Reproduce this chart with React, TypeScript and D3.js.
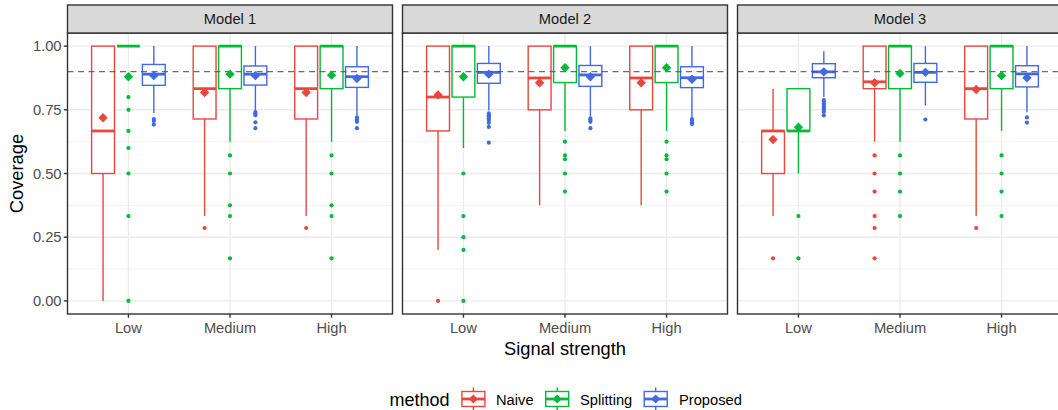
import React from "react";
import * as d3 from "d3";

const models = ["Model 1", "Model 2", "Model 3"];
const strengths = ["Low", "Medium", "High"];
const methods = ["Naive", "Splitting", "Proposed"];
const methodColors = ["#E8473E", "#00BA38", "#4169E1"];
const yTicks = [0, 0.25, 0.5, 0.75, 1];
const yMinor = [0.125, 0.375, 0.625, 0.875];
const targetCoverage = 0.9;

// [lowerWhisker, q1, median, q3, upperWhisker, mean]
// rows: Low (Naive, Splitting, Proposed), Medium (...), High (...)
const model1Stats = [
  [0.0, 0.5, 0.667, 1, 1, 0.719],
  [1, 1, 1, 1, 1, 0.88],
  [0.737, 0.846, 0.89, 0.928, 1, 0.884],
  [0.333, 0.714, 0.833, 1, 1, 0.818],
  [0.625, 0.833, 1, 1, 1, 0.89],
  [0.749, 0.847, 0.89, 0.922, 1, 0.884],
  [0.333, 0.714, 0.833, 1, 1, 0.818],
  [0.625, 0.833, 1, 1, 1, 0.886],
  [0.729, 0.838, 0.88, 0.919, 1, 0.873],
];
const model1Outliers = [
  [],
  [0.8, 0.75, 0.667, 0.6, 0.5, 0.333, 0],
  [0.714, 0.706, 0.692],
  [0.286],
  [0.571, 0.5, 0.375, 0.333, 0.167],
  [0.741, 0.736, 0.729, 0.701, 0.678],
  [0.286],
  [0.571, 0.5, 0.375, 0.333, 0.167],
  [0.72, 0.712, 0.703, 0.678],
];

const model2Stats = [
  [0.2, 0.667, 0.8, 1, 1, 0.808],
  [0.6, 0.8, 1, 1, 1, 0.88],
  [0.747, 0.854, 0.897, 0.932, 1, 0.89],
  [0.375, 0.75, 0.875, 1, 1, 0.856],
  [0.667, 0.857, 1, 1, 1, 0.915],
  [0.725, 0.842, 0.887, 0.924, 1, 0.88],
  [0.375, 0.75, 0.875, 1, 1, 0.856],
  [0.667, 0.857, 1, 1, 1, 0.915],
  [0.722, 0.837, 0.876, 0.919, 1, 0.87],
];
const model2Outliers = [
  [0],
  [0.5, 0.333, 0.25, 0.2, 0],
  [0.736, 0.729, 0.723, 0.716, 0.71, 0.699, 0.683, 0.621],
  [],
  [0.625, 0.571, 0.556, 0.5, 0.429],
  [0.716, 0.71, 0.703, 0.678],
  [],
  [0.625, 0.571, 0.556, 0.5, 0.429],
  [0.714, 0.708, 0.701, 0.694],
];

const model3Stats = [
  [0.333, 0.5, 0.667, 0.667, 0.833, 0.633],
  [0.5, 0.667, 0.667, 0.833, 0.833, 0.682],
  [0.8, 0.876, 0.899, 0.931, 0.98, 0.899],
  [0.625, 0.833, 0.86, 1, 1, 0.856],
  [0.625, 0.833, 1, 1, 1, 0.893],
  [0.767, 0.858, 0.897, 0.932, 1, 0.897],
  [0.333, 0.714, 0.833, 1, 1, 0.83],
  [0.667, 0.833, 1, 1, 1, 0.884],
  [0.74, 0.84, 0.891, 0.923, 1, 0.876],
];
const model3Outliers = [
  [0.167],
  [0.333, 0.167],
  [0.788, 0.782, 0.775, 0.769, 0.762, 0.755, 0.749, 0.742, 0.728],
  [0.571, 0.5, 0.429, 0.333, 0.286, 0.167],
  [0.571, 0.5, 0.429, 0.333],
  [0.712],
  [0.286],
  [0.571, 0.5, 0.429, 0.333],
  [0.72, 0.7],
];

const allStats = [model1Stats, model2Stats, model3Stats];
const allOutliers = [model1Outliers, model2Outliers, model3Outliers];

// layout
const W = 1058;
const H = 410;
const panelLeft0 = 67.5;
const panelW = 325;
const panelGap = 10;
const panelTop = 33;
const panelBottom = 314;
const stripTop = 5;
const FONT = "'Liberation Sans', Arial, Helvetica, sans-serif";
const lw = 1.4;

const y = d3.scaleLinear().domain([-0.0515, 1.0515]).range([panelBottom, panelTop]);

function diamond(cx: number, cy: number, r: number) {
  return `M${cx},${cy - r}L${cx + r},${cy}L${cx},${cy + r}L${cx - r},${cy}Z`;
}

function Panel({ idx }: { idx: number }) {
  const left = panelLeft0 + idx * (panelW + panelGap);
  const right = left + panelW;
  const x = d3.scalePoint<string>().domain(strengths).range([left, right]).padding(0.6);
  const step = x.step();
  const dodge = 0.25 * step;
  const bw = 0.225 * step;
  const stats = allStats[idx];
  const outl = allOutliers[idx];
  return (
    <g>
      <rect x={left} y={panelTop} width={panelW} height={panelBottom - panelTop} fill="white" />
      {yMinor.map((v) => (
        <line key={"mi" + v} x1={left} x2={right} y1={y(v)} y2={y(v)} stroke="#EBEBEB" strokeWidth={0.7} />
      ))}
      {yTicks.map((v) => (
        <line key={"ma" + v} x1={left} x2={right} y1={y(v)} y2={y(v)} stroke="#EBEBEB" strokeWidth={1.4} />
      ))}
      {strengths.map((s) => (
        <line key={"vx" + s} x1={x(s)} x2={x(s)} y1={panelTop} y2={panelBottom} stroke="#EBEBEB" strokeWidth={1.4} />
      ))}
      {strengths.map((s, si) =>
        methods.map((m, mi) => {
          const k = si * 3 + mi;
          const [lo, q1, med, q3, hi] = stats[k];
          const cx = (x(s) as number) + (mi - 1) * dodge;
          const col = methodColors[mi];
          return (
            <g key={s + m}>
              {outl[k].map((o, oi) => (
                <circle key={oi} cx={cx} cy={y(o)} r={2.1} fill={col} />
              ))}
              <line x1={cx} x2={cx} y1={y(q3)} y2={y(hi)} stroke={col} strokeWidth={lw} />
              <line x1={cx} x2={cx} y1={y(q1)} y2={y(lo)} stroke={col} strokeWidth={lw} />
              <rect
                x={cx - bw / 2}
                y={y(q3)}
                width={bw}
                height={Math.max(0, y(q1) - y(q3))}
                fill="white"
                stroke={col}
                strokeWidth={lw}
              />
              <line x1={cx - bw / 2} x2={cx + bw / 2} y1={y(med)} y2={y(med)} stroke={col} strokeWidth={2.8} />
            </g>
          );
        })
      )}
      <line
        x1={left}
        x2={right}
        y1={y(targetCoverage)}
        y2={y(targetCoverage)}
        stroke="#555555"
        strokeOpacity={0.85}
        strokeWidth={1.4}
        strokeDasharray="6,4.5"
      />
      {strengths.map((s, si) =>
        methods.map((m, mi) => {
          const k = si * 3 + mi;
          const cx = (x(s) as number) + (mi - 1) * dodge;
          return <path key={"mn" + s + m} d={diamond(cx, y(stats[k][5]), 4.7)} fill={methodColors[mi]} />;
        })
      )}
      <rect
        x={left}
        y={panelTop}
        width={panelW}
        height={panelBottom - panelTop}
        fill="none"
        stroke="#333333"
        strokeWidth={1.4}
      />
      <rect
        x={left}
        y={stripTop}
        width={panelW}
        height={panelTop - stripTop}
        fill="#D9D9D9"
        stroke="#333333"
        strokeWidth={1.4}
      />
      <text
        x={(left + right) / 2}
        y={(stripTop + panelTop) / 2}
        dy="0.35em"
        textAnchor="middle"
        fontSize={14.7}
        fill="#1A1A1A"
        fontFamily={FONT}
      >
        {models[idx]}
      </text>
      {strengths.map((s) => (
        <g key={"xt" + s}>
          <line x1={x(s)} x2={x(s)} y1={panelBottom} y2={panelBottom + 3.7} stroke="#333333" strokeWidth={1.4} />
          <text x={x(s)} y={333} textAnchor="middle" fontSize={14.7} fill="#4D4D4D" fontFamily={FONT}>
            {s}
          </text>
        </g>
      ))}
      {idx === 0 &&
        yTicks.map((v) => (
          <g key={"yt" + v}>
            <line x1={left - 3.7} x2={left} y1={y(v)} y2={y(v)} stroke="#333333" strokeWidth={1.4} />
            <text
              x={left - 6}
              y={y(v)}
              dy="0.35em"
              textAnchor="end"
              fontSize={14.7}
              fill="#4D4D4D"
              fontFamily={FONT}
            >
              {d3.format(".2f")(v)}
            </text>
          </g>
        ))}
    </g>
  );
}

function LegendKey({ cx, cy, col }: { cx: number; cy: number; col: string }) {
  const bw = 23;
  const bh = 15;
  return (
    <g>
      <line x1={cx} x2={cx} y1={cy - 11.5} y2={cy - bh / 2} stroke={col} strokeWidth={lw} />
      <line x1={cx} x2={cx} y1={cy + bh / 2} y2={cy + 11.5} stroke={col} strokeWidth={lw} />
      <rect x={cx - bw / 2} y={cy - bh / 2} width={bw} height={bh} fill="white" stroke={col} strokeWidth={lw} />
      <line x1={cx - bw / 2} x2={cx + bw / 2} y1={cy} y2={cy} stroke={col} strokeWidth={2.8} />
      <path d={diamond(cx, cy, 4.5)} fill={col} />
    </g>
  );
}

export default function App() {
  const legendY = 399;
  const keyCenters = [473.4, 557.2, 655.7];
  const labelX = [496, 580, 679];
  const panelsCenter = (panelLeft0 + panelLeft0 + 3 * panelW + 2 * panelGap) / 2;
  return (
    <svg
      width={W}
      height={H}
      style={{ position: "absolute", left: 0, top: 0, background: "white" }}
      fontFamily={FONT}
    >
      <rect x={0} y={0} width={W} height={H} fill="white" />
      {models.map((m, i) => (
        <Panel key={m} idx={i} />
      ))}
      <text x={panelsCenter} y={355} textAnchor="middle" fontSize={18.3} fill="black">
        Signal strength
      </text>
      <text
        transform={`translate(23, ${(panelTop + panelBottom) / 2}) rotate(-90)`}
        textAnchor="middle"
        fontSize={18.3}
        fill="black"
      >
        Coverage
      </text>
      <text x={389.5} y={405.5} fontSize={18} fill="black">
        method
      </text>
      {methods.map((m, i) => (
        <g key={"lg" + m}>
          <LegendKey cx={keyCenters[i]} cy={legendY} col={methodColors[i]} />
          <text x={labelX[i]} y={404.5} fontSize={14.7} fill="black">
            {m}
          </text>
        </g>
      ))}
    </svg>
  );
}
